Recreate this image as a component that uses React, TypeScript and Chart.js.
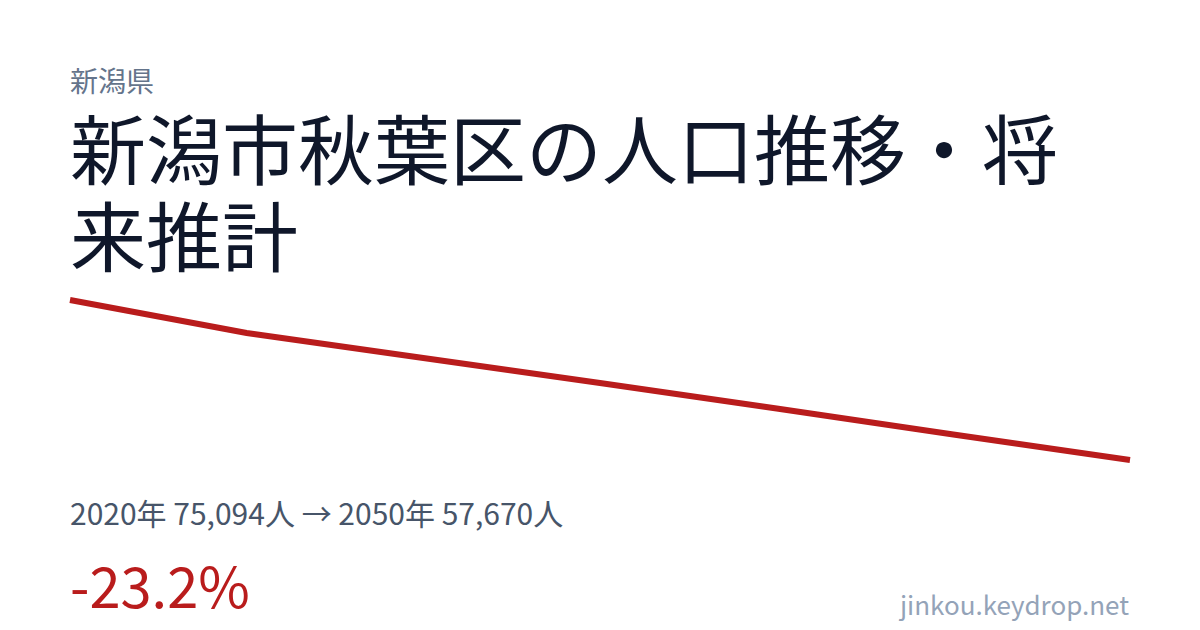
import { useEffect, useRef } from "react";
import { Chart, registerables } from "chart.js";

Chart.register(...registerables);

const years = ["2020", "2025", "2030", "2035", "2040", "2045", "2050"];
const population = [75094, 71500, 68778, 66055, 63278, 60447, 57670];

const prefecture = "新潟県";
const title = "新潟市秋葉区の人口推移・将来推計";
const summary = "2020年 75,094人 → 2050年 57,670人";
const change = "-23.2%";
const site = "jinkou.keydrop.net";

const FONT = "'Noto Sans CJK JP', 'Noto Sans', sans-serif";

export default function App() {
  const canvasRef = useRef<HTMLCanvasElement | null>(null);

  useEffect(() => {
    document.body.style.margin = "0";
    if (!canvasRef.current) return;
    const chart = new Chart(canvasRef.current, {
      type: "line",
      data: {
        labels: years,
        datasets: [
          {
            data: population,
            borderColor: "#b91c1c",
            borderWidth: 6,
            pointRadius: 0,
            tension: 0,
            fill: false,
            clip: false,
          },
        ],
      },
      options: {
        animation: false,
        responsive: false,
        maintainAspectRatio: false,
        layout: { padding: 10 },
        plugins: { legend: { display: false }, tooltip: { enabled: false } },
        scales: {
          x: { display: false, offset: false },
          y: {
            display: false,
            min: Math.min(...population),
            max: Math.max(...population),
          },
        },
      },
    });
    return () => chart.destroy();
  }, []);

  return (
    <div
      style={{
        position: "relative",
        width: 1200,
        height: 630,
        background: "#ffffff",
        fontFamily: FONT,
        overflow: "hidden",
      }}
    >
      <div
        style={{
          position: "absolute",
          left: 70,
          top: 66,
          fontSize: 28,
          lineHeight: 1,
          color: "#64748b",
        }}
      >
        {prefecture}
      </div>
      <div
        style={{
          position: "absolute",
          left: 70,
          top: 103,
          width: 1060,
          fontSize: 76,
          lineHeight: 1.15,
          color: "#0f172a",
        }}
      >
        {title}
      </div>
      <canvas
        ref={canvasRef}
        width={1080}
        height={180}
        style={{ position: "absolute", left: 60, top: 290, width: 1080, height: 180 }}
      />
      <div
        style={{
          position: "absolute",
          left: 70,
          top: 497,
          fontSize: 30,
          lineHeight: 1,
          color: "#475569",
          whiteSpace: "nowrap",
        }}
      >
        {summary}
      </div>
      <div
        style={{
          position: "absolute",
          left: 70,
          top: 556,
          fontSize: 56,
          lineHeight: 1,
          color: "#b91c1c",
        }}
      >
        {change}
      </div>
      <div
        style={{
          position: "absolute",
          right: 71,
          top: 591,
          fontSize: 26,
          lineHeight: 1,
          color: "#94a3b8",
        }}
      >
        {site}
      </div>
    </div>
  );
}
